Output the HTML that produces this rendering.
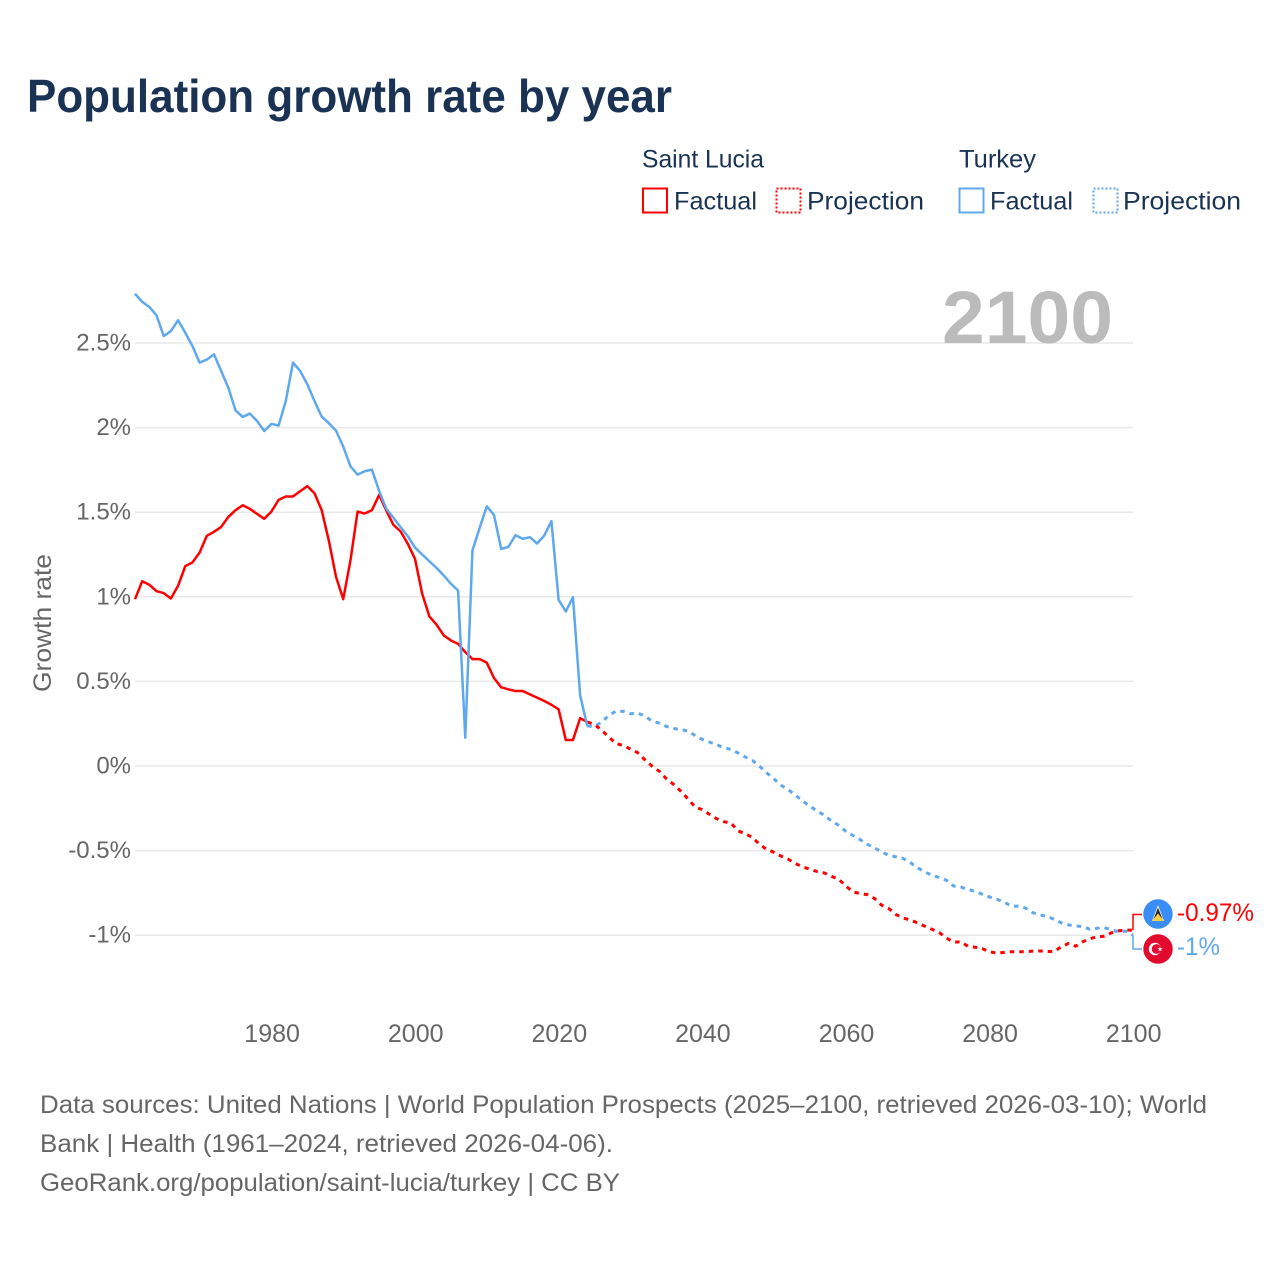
<!DOCTYPE html>
<html lang="en">
<head>
<meta charset="utf-8">
<title>Population growth rate by year</title>
<style>
html,body{margin:0;padding:0;background:#fff;}
svg{display:block;font-family:"Liberation Sans",sans-serif;}
</style>
</head>
<body>
<svg id="chart" xmlns="http://www.w3.org/2000/svg" width="1280" height="1280" viewBox="0 0 1280 1280">
  <rect x="0" y="0" width="1280" height="1280" fill="#ffffff"/>
  <text x="27" y="112" font-size="46" font-weight="700" fill="#1a3354" textLength="645" lengthAdjust="spacingAndGlyphs">Population growth rate by year</text>

  <g font-size="25" fill="#1a3354">
    <text x="642" y="167.5" textLength="122" lengthAdjust="spacingAndGlyphs">Saint Lucia</text>
    <text x="959" y="167.5" textLength="77" lengthAdjust="spacingAndGlyphs">Turkey</text>
    <rect x="643" y="188.5" width="24" height="24" fill="none" stroke="#ff0000" stroke-width="2"/>
    <text x="674" y="209.5" textLength="83" lengthAdjust="spacingAndGlyphs">Factual</text>
    <rect x="776.5" y="188.5" width="24" height="24" fill="none" stroke="#ff0000" stroke-width="2" stroke-dasharray="2 2"/>
    <text x="807" y="209.5" textLength="117" lengthAdjust="spacingAndGlyphs">Projection</text>
    <rect x="959.5" y="188.5" width="24" height="24" fill="none" stroke="#5fa8ee" stroke-width="2"/>
    <text x="990" y="209.5" textLength="83" lengthAdjust="spacingAndGlyphs">Factual</text>
    <rect x="1093.5" y="188.5" width="24" height="24" fill="none" stroke="#5fa8ee" stroke-width="2" stroke-dasharray="2 2"/>
    <text x="1123" y="209.5" textLength="118" lengthAdjust="spacingAndGlyphs">Projection</text>
  </g>

  <g id="grid"></g>
  <g id="yLabels" font-size="24" fill="#666666" text-anchor="end"></g>
  <g id="xLabels" font-size="25" fill="#666666" text-anchor="middle"></g>

  <text transform="translate(51,692) rotate(-90)" font-size="25" fill="#666666" textLength="138" lengthAdjust="spacingAndGlyphs">Growth rate</text>
  <text id="yearLabel" x="942" y="343" font-size="74" font-weight="700" fill="#bbbbbb" textLength="171" lengthAdjust="spacingAndGlyphs">2100</text>

  <g id="series"></g>
  <g id="connectors"></g>

  <g>
    <circle cx="1158" cy="914" r="14.7" fill="#3a8df5"/>
    <polygon points="1158,905 1152,921 1164,921" fill="#ffffff"/>
    <polygon points="1158,907.5 1153.5,919 1162.5,919" fill="#2b2b2b"/>
    <polygon points="1158,913.5 1152,921 1164,921" fill="#f7cf46"/>
  </g>
  <g>
    <circle cx="1158" cy="949" r="14.7" fill="#e30a2f"/>
    <circle cx="1155" cy="949" r="6.2" fill="#ffffff"/>
    <circle cx="1156.6" cy="949" r="4.9" fill="#e30a2f"/>
    <polygon points="1160,946.8 1160.7,948.3 1162.5,948.4 1161.1,949.5 1161.6,951.2 1160,950.2 1158.5,951.2 1159,949.5 1157.6,948.4 1159.4,948.3" fill="#ffffff"/>
  </g>
  <text x="1177" y="921" font-size="25" fill="#ff0000" textLength="77" lengthAdjust="spacingAndGlyphs">-0.97%</text>
  <text x="1177" y="955" font-size="25" fill="#5fa8ee" textLength="43" lengthAdjust="spacingAndGlyphs">-1%</text>

  <g font-size="25" fill="#666666">
    <text x="40" y="1113" textLength="1167" lengthAdjust="spacingAndGlyphs">Data sources: United Nations | World Population Prospects (2025–2100, retrieved 2026-03-10); World</text>
    <text x="40" y="1152" textLength="573" lengthAdjust="spacingAndGlyphs">Bank | Health (1961–2024, retrieved 2026-04-06).</text>
    <text x="40" y="1191" textLength="580" lengthAdjust="spacingAndGlyphs">GeoRank.org/population/saint-lucia/turkey | CC BY</text>
  </g>
</svg>
<script>
const firstYear = 1961;
const lastYear = 2100;
const projectionStartYear = 2024;
const xTickYears = [1980, 2000, 2020, 2040, 2060, 2080, 2100];
const yTickValues = [2.5, 2, 1.5, 1, 0.5, 0, -0.5, -1];
const yTickLabels = ['2.5%', '2%', '1.5%', '1%', '0.5%', '0%', '-0.5%', '-1%'];

const saintLuciaFactual = [
  0.986, 1.092, 1.071, 1.033, 1.022, 0.990, 1.065, 1.181, 1.203, 1.262,
  1.360, 1.384, 1.413, 1.472, 1.512, 1.541, 1.520, 1.490, 1.461, 1.504,
  1.573, 1.593, 1.593, 1.624, 1.654, 1.612, 1.512, 1.331, 1.118, 0.986,
  1.213, 1.504, 1.492, 1.512, 1.602, 1.510, 1.425, 1.386, 1.313, 1.224,
  1.018, 0.884, 0.835, 0.772, 0.742, 0.722, 0.673, 0.632, 0.632, 0.610,
  0.520, 0.465, 0.453, 0.443, 0.443, 0.423, 0.404, 0.384, 0.362, 0.335,
  0.154, 0.154, 0.283, 0.260
];
const turkeyFactual = [
  2.791, 2.744, 2.713, 2.663, 2.541, 2.571, 2.634, 2.561, 2.482, 2.384,
  2.402, 2.433, 2.335, 2.236, 2.102, 2.063, 2.083, 2.039, 1.980, 2.022,
  2.012, 2.157, 2.384, 2.335, 2.256, 2.157, 2.065, 2.026, 1.982, 1.888,
  1.772, 1.722, 1.742, 1.752, 1.626, 1.520, 1.467, 1.411, 1.358, 1.291,
  1.250, 1.210, 1.171, 1.126, 1.077, 1.037, 0.167, 1.274, 1.407, 1.535,
  1.484, 1.283, 1.295, 1.364, 1.343, 1.352, 1.315, 1.362, 1.447, 0.982,
  0.913, 0.998, 0.417, 0.236
];
const saintLuciaProjection = [
  0.260, 0.246, 0.211, 0.171, 0.132, 0.122, 0.100, 0.079, 0.037, 0.000,
  -0.030, -0.075, -0.108, -0.148, -0.193, -0.242, -0.258, -0.285, -0.311, -0.329,
  -0.337, -0.384, -0.400, -0.423, -0.463, -0.494, -0.510, -0.533, -0.551, -0.577,
  -0.596, -0.610, -0.624, -0.632, -0.652, -0.669, -0.709, -0.744, -0.754, -0.760,
  -0.783, -0.823, -0.843, -0.878, -0.898, -0.911, -0.927, -0.947, -0.965, -0.984,
  -1.016, -1.041, -1.039, -1.065, -1.071, -1.079, -1.098, -1.106, -1.102, -1.098,
  -1.098, -1.098, -1.094, -1.093, -1.096, -1.096, -1.069, -1.049, -1.065, -1.039,
  -1.020, -1.010, -1.006, -0.986, -0.974, -0.970, -0.970
];
const turkeyProjection = [
  0.236, 0.234, 0.260, 0.299, 0.325, 0.323, 0.309, 0.313, 0.295, 0.266,
  0.254, 0.234, 0.222, 0.215, 0.207, 0.181, 0.157, 0.142, 0.126, 0.108,
  0.098, 0.077, 0.053, 0.033, -0.002, -0.041, -0.077, -0.114, -0.140, -0.173,
  -0.207, -0.238, -0.266, -0.291, -0.325, -0.350, -0.386, -0.411, -0.435, -0.463,
  -0.484, -0.508, -0.528, -0.537, -0.547, -0.571, -0.602, -0.626, -0.646, -0.659,
  -0.675, -0.709, -0.715, -0.730, -0.740, -0.758, -0.774, -0.787, -0.803, -0.827,
  -0.829, -0.839, -0.866, -0.880, -0.888, -0.906, -0.927, -0.939, -0.945, -0.949,
  -0.965, -0.959, -0.955, -0.969, -0.980, -0.976, -1.000
];

const SVG_NS = 'http://www.w3.org/2000/svg';
const plotLeft = 135;
const plotRight = 1133;
const zeroY = 766;
const pxPerUnit = 169.2;
const RED = '#ff0000';
const BLUE = '#5fa8ee';

function xScale(year) {
  return plotLeft + (year - firstYear) * (plotRight - plotLeft) / (lastYear - firstYear);
}
function yScale(value) {
  return zeroY - value * pxPerUnit;
}
function make(tag, parentId) {
  const el = document.createElementNS(SVG_NS, tag);
  document.getElementById(parentId).appendChild(el);
  return el;
}
function linePath(values, startYear) {
  return values.map(function (v, i) {
    return (i ? 'L' : 'M') + xScale(startYear + i).toFixed(2) + ' ' + yScale(v).toFixed(2);
  }).join(' ');
}
function drawSeries(name, values, startYear, color, dashed) {
  const p = make('path', 'series');
  
  
  p.setAttribute('d', linePath(values, startYear));
  p.setAttribute('fill', 'none');
  p.setAttribute('stroke', color);
  p.setAttribute('stroke-width', dashed ? '3' : '2.5');
  p.setAttribute('stroke-linejoin', 'round');
  if (dashed) {
    p.setAttribute('stroke-dasharray', '4.5 5');
  }
}

yTickValues.forEach(function (v, i) {
  const line = make('line', 'grid');
  
  
  line.setAttribute('x1', plotLeft);
  line.setAttribute('x2', plotRight);
  line.setAttribute('y1', yScale(v));
  line.setAttribute('y2', yScale(v));
  line.setAttribute('stroke', '#e9e9e9');
  line.setAttribute('stroke-width', '1.5');
  const t = make('text', 'yLabels');
  
  
  t.setAttribute('x', 131);
  t.setAttribute('y', yScale(v) + 7.5);
  t.textContent = yTickLabels[i];
});

xTickYears.forEach(function (year) {
  const t = make('text', 'xLabels');
  
  
  t.setAttribute('x', xScale(year) + 0.7);
  t.setAttribute('y', 1042);
  t.textContent = String(year);
});

drawSeries('turkey-projection-line', turkeyProjection, projectionStartYear, BLUE, true);
drawSeries('saint-lucia-projection-line', saintLuciaProjection, projectionStartYear, RED, true);
drawSeries('saint-lucia-factual-line', saintLuciaFactual, firstYear, RED, false);
drawSeries('turkey-factual-line', turkeyFactual, firstYear, BLUE, false);

const redConnector = make('path', 'connectors');


redConnector.setAttribute('d', 'M' + xScale(lastYear) + ' ' + yScale(saintLuciaProjection[saintLuciaProjection.length - 1]) + ' V914.5 H1142');
redConnector.setAttribute('fill', 'none');
redConnector.setAttribute('stroke', RED);
redConnector.setAttribute('stroke-width', '1.5');

const blueConnector = make('path', 'connectors');


blueConnector.setAttribute('d', 'M' + xScale(lastYear) + ' ' + yScale(turkeyProjection[turkeyProjection.length - 1]) + ' V949 H1142');
blueConnector.setAttribute('fill', 'none');
blueConnector.setAttribute('stroke', BLUE);
blueConnector.setAttribute('stroke-width', '1.5');
</script>
</body>
</html>
